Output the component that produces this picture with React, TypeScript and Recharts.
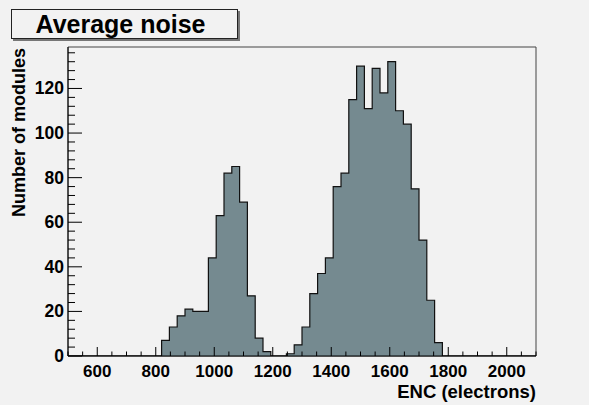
import { AreaChart, Area, XAxis, YAxis, ReferenceArea, Label } from 'recharts';

// histogram: 60 bins between 500 and 2100 electrons
const HIST_MIN = 500;
const HIST_MAX = 2100;
const moduleCounts = [
    0, 0, 0, 0, 0, 0, 0, 0, 0, 0, 0, 0,
    7, 13, 18, 21, 20, 20, 44, 63, 82, 85, 69, 27, 8, 2,
    0, 0,
    1, 5, 13, 28, 37, 44, 76, 82, 115, 130, 111, 129, 118, 132, 110, 104, 75, 52, 25, 6,
    0, 0, 0, 0, 0, 0, 0, 0, 0, 0, 0, 0,
];
const xTicks = [500, 550, 600, 650, 700, 750, 800, 850, 900, 950, 1000, 1050, 1100, 1150, 1200, 1250, 1300,
    1350, 1400, 1450, 1500, 1550, 1600, 1650, 1700, 1750, 1800, 1850, 1900, 1950, 2000, 2050, 2100];
const xLabels = [600, 800, 1000, 1200, 1400, 1600, 1800, 2000];
const yTicks = [0, 4, 8, 12, 16, 20, 24, 28, 32, 36, 40, 44, 48, 52, 56, 60, 64, 68, 72, 76, 80, 84, 88, 92,
    96, 100, 104, 108, 112, 116, 120, 124, 128, 132, 136];
const yLabels = [0, 20, 40, 60, 80, 100, 120];
const Y_MAX = 138.6;

const binWidth = (HIST_MAX - HIST_MIN) / moduleCounts.length;
const histData = [
    ...moduleCounts.map((n, i) => ({ enc: HIST_MIN + i * binWidth, n })),
    { enc: HIST_MAX, n: 0 },
];

const FONT = '"Liberation Sans", Arial, Helvetica, sans-serif';

const XTick = (props: any) => {
    const { x, y, payload } = props;
    const major = xLabels.includes(payload.value);
    return (
        <g>
            <line x1={x} x2={x} y1={y} y2={y - (major ? 9 : 4.5)} stroke="#000" />
            {major && (
                <text x={x} y={y + 20.5} textAnchor="middle" fontFamily={FONT} fontWeight="bold" fontSize={17} fill="#000">
                    {payload.value}
                </text>
            )}
        </g>
    );
};

const YTick = (props: any) => {
    const { x, y, payload } = props;
    const major = yLabels.includes(payload.value);
    return (
        <g>
            <line x1={x} x2={x + (major ? 14 : 7)} y1={y} y2={y} stroke="#000" />
            {major && (
                <text x={x - 4} y={y + 6} textAnchor="end" fontFamily={FONT} fontWeight="bold" fontSize={17.5} fill="#000">
                    {payload.value}
                </text>
            )}
        </g>
    );
};

export default function App() {
    return (
        <div style={{ position: 'absolute', left: 0, top: 0, width: 589, height: 405, background: '#f2f2f2' }}>
            <AreaChart width={589} height={405} data={histData} margin={{ top: 47, right: 53, bottom: 19, left: 8 }}>
                <XAxis
                    dataKey="enc"
                    type="number"
                    domain={[HIST_MIN, HIST_MAX]}
                    ticks={xTicks}
                    interval={0}
                    tickLine={false}
                    tickSize={0}
                    tickMargin={0}
                    tick={<XTick />}
                    axisLine={{ stroke: '#000' }}
                    height={30}
                >
                    <Label
                        content={(p: any) => (
                            <text
                                x={p.viewBox.x + p.viewBox.width}
                                y={p.viewBox.y + 42}
                                textAnchor="end"
                                fontFamily={FONT}
                                fontWeight="bold"
                                fontSize={18.5}
                                fill="#000"
                            >
                                ENC (electrons)
                            </text>
                        )}
                    />
                </XAxis>
                <YAxis
                    type="number"
                    domain={[0, Y_MAX]}
                    allowDataOverflow
                    ticks={yTicks}
                    interval={0}
                    tickLine={false}
                    tickSize={0}
                    tickMargin={0}
                    tick={<YTick />}
                    axisLine={{ stroke: '#000' }}
                    width={60}
                >
                    <Label
                        content={(p: any) => (
                            <text
                                x={25}
                                y={p.viewBox.y + 1}
                                transform={`rotate(-90 25 ${p.viewBox.y + 1})`}
                                textAnchor="end"
                                fontFamily={FONT}
                                fontWeight="bold"
                                fontSize={18}
                                fill="#000"
                            >
                                Number of modules
                            </text>
                        )}
                    />
                </YAxis>
                <ReferenceArea x1={HIST_MIN} x2={HIST_MAX} y1={0} y2={Y_MAX} fill="none" stroke="#444" strokeWidth={1} />
                <Area
                    type="stepAfter"
                    dataKey="n"
                    stroke="#111"
                    strokeWidth={1.2}
                    fill="#758a90"
                    fillOpacity={1}
                    dot={false}
                    activeDot={false}
                    isAnimationActive={false}
                />
            </AreaChart>
            <div
                style={{
                    position: 'absolute',
                    left: 11,
                    top: 9,
                    width: 227,
                    height: 30,
                    border: '1px solid #222',
                    boxShadow: '2px 2px 0 #777',
                    background: '#f2f2f2',
                    display: 'flex',
                    alignItems: 'center',
                    justifyContent: 'center',
                    fontFamily: FONT,
                    fontWeight: 'bold',
                    fontSize: 25,
                    color: '#000',
                    lineHeight: 1,
                    paddingRight: 8,
                    boxSizing: 'border-box',
                }}
            >
                Average noise
            </div>
        </div>
    );
}
